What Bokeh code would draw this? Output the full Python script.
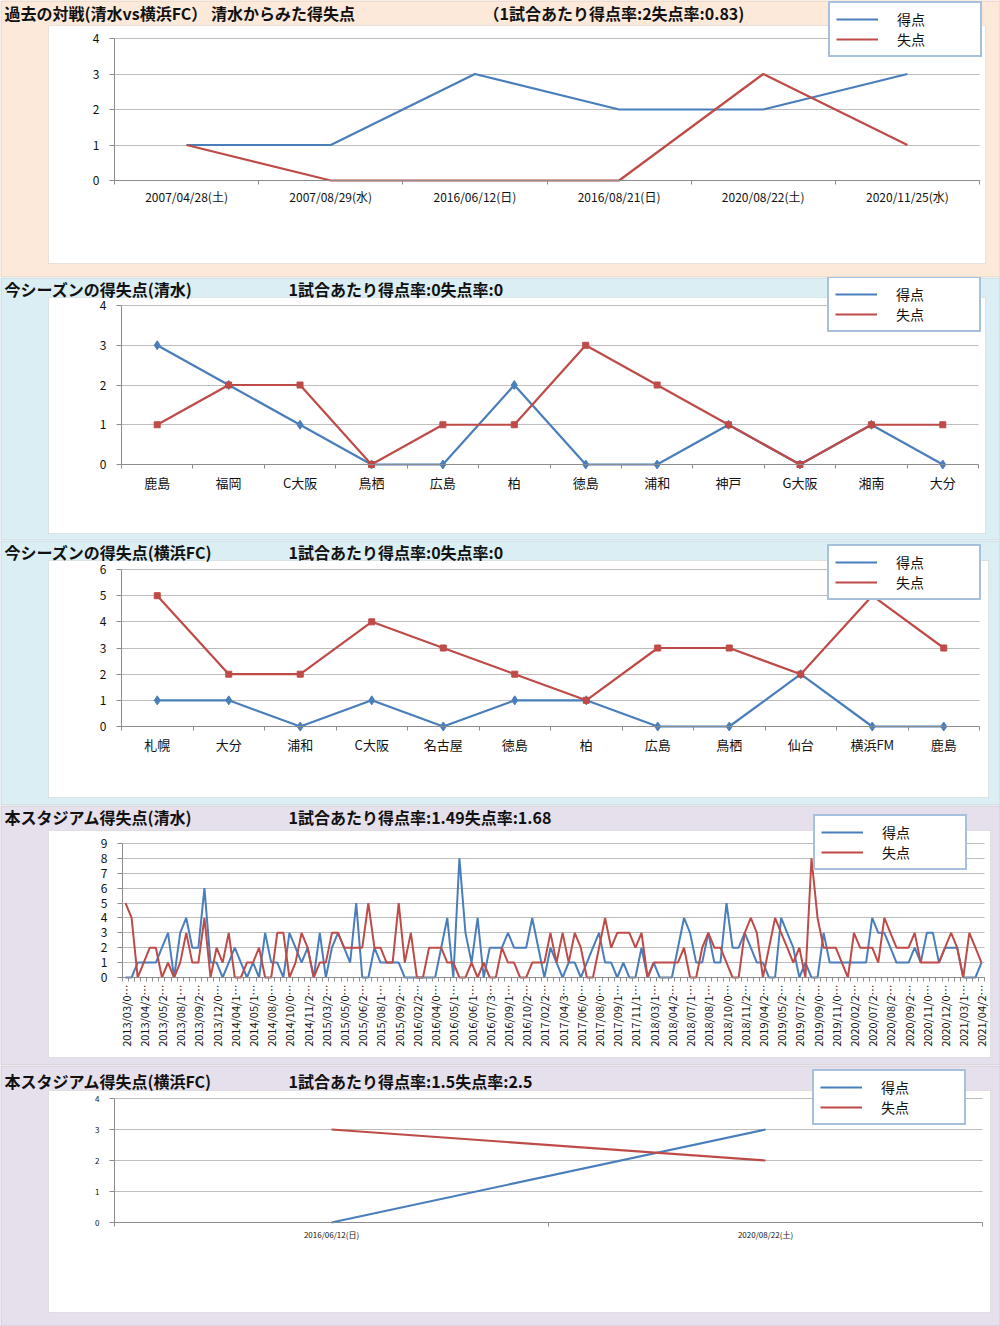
import math
from bokeh.plotting import figure
from bokeh.models import (FixedTicker, BoxAnnotation, Label, Legend, LegendItem, Range1d,
                          LinearAxis, Grid)
from bokeh.layouts import column
from bokeh.embed import file_html
from bokeh.resources import INLINE

FONT = "Noto Sans CJK JP"
BLUE = "#4A7EBB"
RED = "#BE4B48"
W = 1000

# ---------------- data ----------------
past_dates = ["2007/04/28(土)", "2007/08/29(水)", "2016/06/12(日)", "2016/08/21(日)",
              "2020/08/22(土)", "2020/11/25(水)"]
past_scored = [1, 1, 3, 2, 2, 3]
past_conceded = [1, 0, 0, 0, 3, 1]

shimizu_opponents = ["鹿島", "福岡", "C大阪", "鳥栖", "広島", "柏", "徳島", "浦和", "神戸", "G大阪", "湘南", "大分"]
shimizu_scored = [3, 2, 1, 0, 0, 2, 0, 0, 1, 0, 1, 0]
shimizu_conceded = [1, 2, 2, 0, 1, 1, 3, 2, 1, 0, 1, 1]

yokohama_opponents = ["札幌", "大分", "浦和", "C大阪", "名古屋", "徳島", "柏", "広島", "鳥栖", "仙台", "横浜FM", "鹿島"]
yokohama_scored = [1, 1, 0, 1, 0, 1, 1, 0, 0, 2, 0, 0]
yokohama_conceded = [5, 2, 2, 4, 3, 2, 1, 3, 3, 2, 5, 3]

stadium_labels = ["2013/03/0…", "2013/04/2…", "2013/05/2…", "2013/08/1…", "2013/09/2…", "2013/12/0…",
                  "2014/04/1…", "2014/05/1…", "2014/08/0…", "2014/10/0…", "2014/11/2…", "2015/03/2…",
                  "2015/05/0…", "2015/06/2…", "2015/08/1…", "2015/09/2…", "2016/02/2…", "2016/04/0…",
                  "2016/05/1…", "2016/06/1…", "2016/07/3…", "2016/09/1…", "2016/10/2…", "2017/02/2…",
                  "2017/04/3…", "2017/06/0…", "2017/08/0…", "2017/09/1…", "2017/11/1…", "2018/03/1…",
                  "2018/04/2…", "2018/07/1…", "2018/08/1…", "2018/10/0…", "2018/11/2…", "2019/04/2…",
                  "2019/05/2…", "2019/07/2…", "2019/09/0…", "2019/11/0…", "2020/02/2…", "2020/07/2…",
                  "2020/08/2…", "2020/09/2…", "2020/11/0…", "2020/12/0…", "2021/03/1…", "2021/04/2…"]
stadium_scored = [0, 0, 1, 1, 1, 1, 2, 3, 0, 3,
                  4, 2, 2, 6, 1, 1, 0, 1, 2, 1,
                  0, 1, 0, 3, 1, 1, 0, 3, 2, 1,
                  2, 0, 3, 0, 2, 3, 2, 1, 5, 0,
                  0, 2, 1, 1, 1, 1, 0, 0, 0, 0,
                  0, 0, 2, 4, 0, 8, 3, 1, 4, 0,
                  2, 2, 2, 3, 2, 2, 2, 4, 2, 0,
                  2, 1, 0, 1, 1, 0, 1, 2, 3, 1,
                  1, 0, 1, 0, 0, 2, 0, 1, 0, 0,
                  0, 2, 4, 3, 1, 1, 3, 1, 1, 5,
                  2, 2, 3, 2, 1, 1, 0, 0, 4, 3,
                  2, 0, 1, 0, 0, 3, 1, 1, 1, 1,
                  1, 1, 1, 4, 3, 3, 2, 1, 1, 1,
                  2, 1, 3, 3, 1, 2, 2, 2, 0, 0,
                  0, 1]
stadium_conceded = [5, 4, 0, 1, 2, 2, 0, 1, 0, 1,
                    3, 1, 1, 4, 0, 2, 1, 3, 0, 0,
                    1, 1, 2, 0, 0, 3, 3, 0, 1, 3,
                    2, 0, 1, 1, 3, 3, 2, 2, 2, 2,
                    5, 2, 2, 1, 1, 5, 1, 3, 0, 0,
                    2, 2, 2, 1, 1, 0, 0, 1, 0, 1,
                    0, 0, 2, 1, 1, 0, 0, 1, 1, 1,
                    3, 1, 3, 1, 3, 2, 0, 0, 2, 4,
                    2, 3, 3, 3, 2, 3, 0, 1, 1, 1,
                    1, 1, 2, 0, 0, 2, 3, 2, 2, 1,
                    0, 0, 3, 4, 3, 0, 2, 4, 3, 2,
                    1, 2, 0, 8, 4, 2, 2, 2, 1, 0,
                    3, 2, 2, 2, 1, 4, 3, 2, 2, 2,
                    3, 1, 1, 1, 1, 2, 3, 2, 0, 3,
                    2, 1]
stadium_label_step = 3

yfc_dates = ["2016/06/12(日)", "2020/08/22(土)"]
yfc_scored = [0, 3]
yfc_conceded = [3, 2]

titles = [
    ("過去の対戦(清水vs横浜FC）  清水からみた得失点", "（1試合あたり得点率:2失点率:0.83)"),
    ("今シーズンの得失点(清水)", "1試合あたり得点率:0失点率:0"),
    ("今シーズンの得失点(横浜FC)", "1試合あたり得点率:0失点率:0"),
    ("本スタジアム得失点(清水)", "1試合あたり得点率:1.49失点率:1.68"),
    ("本スタジアム得失点(横浜FC)", "1試合あたり得点率:1.5失点率:2.5"),
]
legend_labels = ["得点", "失点"]


def make_panel(h, bg, area, box, title_pair, title_x2, title_y, legend_box, n, ymax,
               tick_pos, tick_labels, label_size, ylabel_size, label_standoff,
               scored, conceded, markers=False, orient="horizontal", line_w=2.2):
    # area: plot area in canvas pixels (left, top, right, bottom)
    ax0, ay0, ax1, ay1 = area
    kx = n / (ax1 - ax0)
    ky = ymax / (ay1 - ay0)
    xr = Range1d(-0.5 - ax0 * kx, n - 0.5 + (W - ax1) * kx)
    yr = Range1d(-(h - ay1) * ky, ymax + ay0 * ky)
    p = figure(width=W, height=h, output_backend="svg", toolbar_location=None, title=None,
               x_range=xr, y_range=yr, x_axis_location=None, y_axis_location=None,
               min_border=0, min_border_left=0, min_border_right=0,
               min_border_top=0, min_border_bottom=0,
               border_fill_color=bg, background_fill_color=bg,
               outline_line_color=None)
    # drop the default grids (they would span the whole canvas)
    p.center = [r for r in p.center if not isinstance(r, Grid)]

    def sy(cy):
        return h - cy

    # white chart area and panel outline
    p.add_layout(BoxAnnotation(left=box[0], right=box[2], top=sy(box[1]), bottom=sy(box[3]),
                               left_units="screen", right_units="screen",
                               top_units="screen", bottom_units="screen",
                               fill_color="white", fill_alpha=1.0,
                               line_color="#b7b7b7", line_width=1, level="image"))
    p.add_layout(BoxAnnotation(left=0.5, right=W - 0.5, top=sy(0.5), bottom=sy(h - 0.5),
                               left_units="screen", right_units="screen",
                               top_units="screen", bottom_units="screen",
                               fill_alpha=0, line_color="#a0a0a0", line_width=1, level="image"))

    # titles
    for txt, x in ((title_pair[0], 4), (title_pair[1], title_x2)):
        p.add_layout(Label(x=x, y=sy(title_y), x_units="screen", y_units="screen", text=txt,
                           text_font=FONT, text_font_size="16px", text_font_style="bold",
                           text_color="#111111", text_baseline="middle", text_align="left"))

    yticks = list(range(ymax + 1))
    p.add_layout(Grid(dimension=1, ticker=FixedTicker(ticks=yticks),
                      cross_bounds=(-0.5, n - 0.5),
                      grid_line_color="#bdbdbd", grid_line_width=1))

    xs = list(range(n))
    r1 = p.line(xs, scored, line_color=BLUE, line_width=line_w)
    r2 = p.line(xs, conceded, line_color=RED, line_width=line_w)
    if markers:
        p.scatter(xs, scored, marker="diamond", size=9, fill_color=BLUE, line_color=BLUE)
        p.scatter(xs, conceded, marker="square", size=6, fill_color=RED, line_color=RED)

    # axes
    xa = LinearAxis(fixed_location=0, bounds=(-0.5, n - 0.5),
                    ticker=FixedTicker(ticks=tick_pos, minor_ticks=[i - 0.5 for i in range(n + 1)]))
    xa.major_label_overrides = {t: l for t, l in zip(tick_pos, tick_labels)}
    xa.major_tick_out = 0
    xa.major_tick_in = 0
    xa.minor_tick_out = 4
    xa.minor_tick_in = 0
    xa.major_label_standoff = label_standoff
    xa.major_label_text_font = FONT
    xa.major_label_text_font_size = label_size
    xa.major_label_text_color = "#111111"
    xa.major_label_orientation = orient
    xa.axis_line_color = "#8c8c8c"
    xa.minor_tick_line_color = "#8c8c8c"
    p.add_layout(xa, "below")

    ya = LinearAxis(fixed_location=-0.5, bounds=(0, ymax), ticker=FixedTicker(ticks=yticks))
    ya.major_tick_out = 5
    ya.major_tick_in = 0
    ya.minor_tick_line_color = None
    ya.major_label_standoff = 10
    ya.major_label_text_font = FONT
    ya.major_label_text_font_size = ylabel_size
    ya.major_label_text_color = "#111111"
    ya.axis_line_color = "#8c8c8c"
    ya.major_tick_line_color = "#8c8c8c"
    p.add_layout(ya, "left")

    lx0, ly0, lx1, ly1 = legend_box
    legend = Legend(items=[LegendItem(label=legend_labels[0], renderers=[r1]),
                           LegendItem(label=legend_labels[1], renderers=[r2])],
                    location=(lx0, sy(ly1)), orientation="vertical",
                    border_line_color="#4F81BD", border_line_width=2,
                    background_fill_color="white", background_fill_alpha=1.0,
                    label_text_font=FONT, label_text_font_size="14px", label_text_color="#111111",
                    glyph_width=42, glyph_height=20, label_height=20, label_width=77,
                    label_standoff=19, padding=6, spacing=0, margin=0)
    p.add_layout(legend)
    return p


n1 = len(past_dates)
p1 = make_panel(277, "#FDE9D9", (114, 38, 979, 180), (48, 25, 985, 263),
                titles[0], 483, 12, (828, 5, 980, 57), n1, 4,
                list(range(n1)), past_dates, "12px", "12px", 3,
                past_scored, past_conceded)

n2 = len(shimizu_opponents)
p2 = make_panel(263, "#DBEEF4", (121, 28, 978, 187), (48, 20, 985, 256),
                titles[1], 288, 11, (827, 4, 978, 55), n2, 4,
                list(range(n2)), shimizu_opponents, "13px", "12px", 4,
                shimizu_scored, shimizu_conceded, markers=True)

n3 = len(yokohama_opponents)
p3 = make_panel(265, "#DBEEF4", (121, 29, 979, 186), (48, 20, 988, 257),
                titles[2], 288, 11, (827, 9, 978, 60), n3, 6,
                list(range(n3)), yokohama_opponents, "13px", "12px", 4,
                yokohama_scored, yokohama_conceded, markers=True)

n4 = len(stadium_scored)
ticks4 = list(range(0, n4, stadium_label_step))
p4 = make_panel(260, "#E5E0EC", (122, 38, 984, 172), (48, 25, 990, 252),
                titles[3], 288, 11, (813, 13, 965, 65), n4, 9,
                ticks4, stadium_labels, "11px", "12px", 3,
                stadium_scored, stadium_conceded, orient=math.pi / 2, line_w=2.0)

n5 = len(yfc_dates)
p5 = make_panel(261, "#E5E0EC", (114, 33, 982, 157), (48, 25, 990, 247),
                titles[4], 288, 15, (812, 9, 963, 60), n5, 4,
                list(range(n5)), yfc_dates, "8px", "8px", 2,
                yfc_scored, yfc_conceded)

layout = column(p1, p2, p3, p4, p5, spacing=0)
open("out.html", "w").write(file_html(layout, INLINE))
